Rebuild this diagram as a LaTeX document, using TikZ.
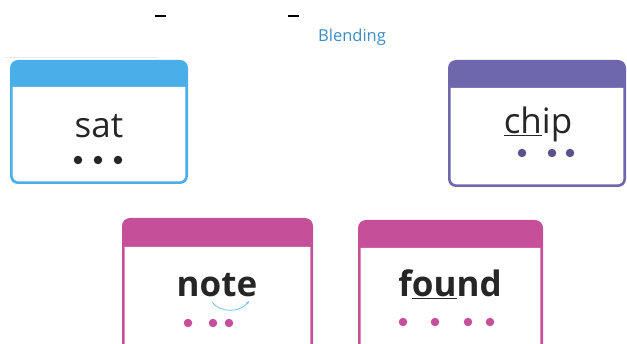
\documentclass[tikz,border=0pt]{standalone}
\usepackage{fontspec}
\setmainfont{Open Sans}
\usepackage{tikz}
\usetikzlibrary{arrows.meta}

\definecolor{satblue}{HTML}{4AAEE8}
\definecolor{chippurple}{HTML}{6F67AE}
\definecolor{wordpink}{HTML}{C64F99}
\definecolor{headblue}{HTML}{3C8DC5}
\definecolor{arcblue}{HTML}{62BDEA}

\tikzset{
  word/.style={font=\fontsize{35}{38}\selectfont, text=black!85, inner sep=0pt},
  boldword/.style={word, font=\fontsize{35}{38}\selectfont\bfseries},
  sound/.style={circle, inner sep=0pt, minimum size=8.5pt}
}

% one card: #1 colour, corners (#2,#3) and (#4,#5), header bottom at #6
\newcommand{\wordcard}[6]{
  \fill[#1, rounded corners=8] (#2,#3) rectangle (#4,#5);
  \fill[white] (#2+2.6,#6) -- (#4-2.6,#6) [rounded corners=6]-- (#4-2.6,#5-2.6)
    -- (#2+2.6,#5-2.6) [sharp corners]-- cycle;
}

\begin{document}
\begin{tikzpicture}[x=1pt,y=-1pt]
  \useasboundingbox (0,0) rectangle (627,344);
  \clip (0,0) rectangle (627,344);

  % cut-off title strokes and heading
  \draw[line width=1.8,black] (155,16) -- (166,16);
  \draw[line width=1.8,black] (288,16) -- (299,16);
  \node[text=headblue, font=\fontsize{16.5}{18}\selectfont] (heading) at (352,37) {Blending};
  \draw[black!8, line width=1] (5,58) -- (158,58);

  % cards
  \wordcard{satblue}{10}{60}{188}{184}{87}
  \wordcard{chippurple}{448}{60}{626}{187}{88}
  \wordcard{wordpink}{122}{218}{313}{360}{247}
  \wordcard{wordpink}{358}{220}{543}{360}{248}

  % words
  \node[word] (sat) at (99,126) {sat};
  \node[word] (chip) at (538,124) {\underline{ch}ip};
  \node[boldword] (note) at (217,285) {note};
  \node[boldword] (found) at (450,284) {f\underline{ou}nd};

  % sound buttons
  \foreach \x in {78,98,118}
    \node[sound, fill=black!85] (sat-\x) at (\x,160) {};
  \foreach \x in {522,552,570}
    \node[sound, fill=chippurple!80!black] (chip-\x) at (\x,153) {};
  \foreach \x in {188,213,229}
    \node[sound, fill=wordpink] (note-\x) at (\x,323) {};
  \foreach \x in {403,435,468,490}
    \node[sound, fill=wordpink] (found-\x) at (\x,322) {};

  % split digraph arc
  \coordinate (arc-a) at (212,302);
  \coordinate (arc-b) at (249,301);
  \draw[arcblue, line width=0.7, -{Stealth[length=3.5pt]}] (arc-a) .. controls (220,313) and (240,313) .. (arc-b);
\end{tikzpicture}
\end{document}
